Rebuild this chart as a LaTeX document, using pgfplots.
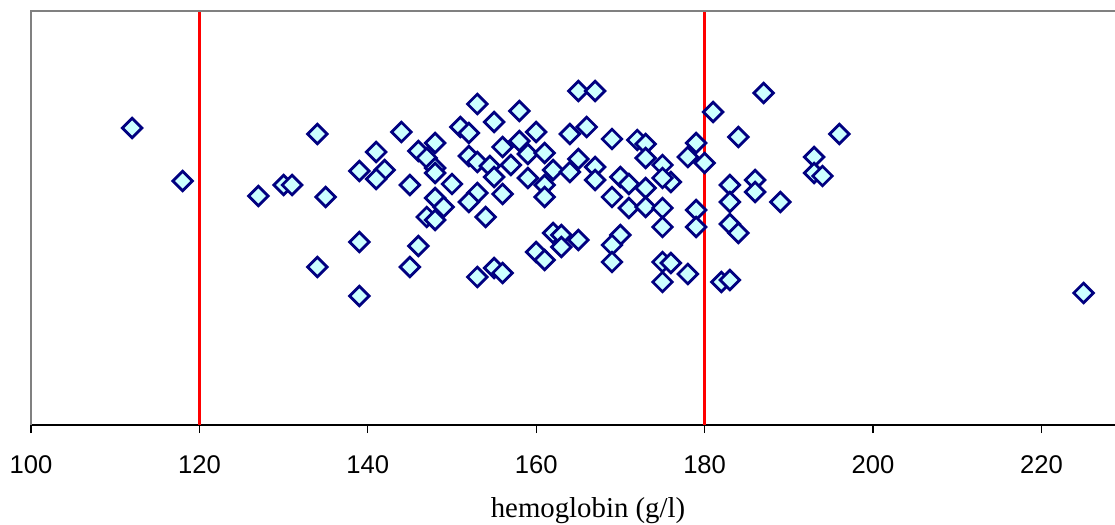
\documentclass[border=0pt]{standalone}
\usepackage{pgfplots}
\pgfplotsset{compat=1.18}
\usepackage{fontspec}
\setmainfont{Liberation Serif}
\setsansfont{Liberation Sans}
\definecolor{mfill}{RGB}{204,255,255}
\definecolor{medge}{RGB}{0,0,128}
\definecolor{bordergray}{RGB}{128,128,128}
\begin{document}
\begin{tikzpicture}
\path[use as bounding box] (-15.5pt,-50pt) rectangle (542pt,212.5pt);
\begin{axis}[
  at={(0,0)}, anchor=south west,
  scale only axis,
  width=542pt, height=207pt,
  xmin=100, xmax=228.74,
  ymin=0, ymax=414,
  axis x line*=bottom,
  axis y line=none,
  x axis line style={-, black, line width=0.6pt},
  xtick={100,120,140,160,180,200,220},
  ytick=\empty,
  tick align=outside,
  major tick length=4pt,
  xtick style={black, line width=0.6pt},
  /pgf/number format/assume math mode=true,
  xticklabel style={font=\sffamily\fontsize{12.8}{15}\selectfont, anchor=base, yshift=-20pt},
  xlabel={hemoglobin (g/l)},
  xlabel style={font=\fontsize{14.4}{17}\selectfont, at={(axis description cs:0,0)}, anchor=base, xshift=278.5pt, yshift=-46pt},
  clip=false,
]
\addplot[only marks, mark=square*, mark size=3.45pt,
  mark options={rotate=45, fill=mfill, draw=medge, line width=1.4pt}]
  table {
x y
112 297
118 244
127 229
130 240
131 240
135 228
134 291
134 158
139 183
139 129
139 254
141 273
142 255
141 246
153 321
155 303
158 314
144 293
151 298
152 292
156 278
146 274
148 282
147 267
152 269
153 263
154.5 259
157 260
148 257
148 252
155 248
150 241
145 240
153 232
152 223
156 231
148 227
149 218
147 208
148 205
154 208
146 179
145 158
153 148
155 157
156 152
165 334
167 334
160 293
164 291
166 298
169 286
172 285
173 281
158 284
159 271
161 272
162 255
164 253
165 266
167 258
167 245
159 247
161 240
161 228
170 248
171 241
169 228
171 217
162 192
163 190
163 178
165 185
160 173
161 165
170 190
169 180
169 163
187 332
181 313
184 288
179 282
173 267
178 268
180 262
175 260
176 243
175 247
173 237
183 240
186 245
186 233
183 223
173 218
175 217
179 215
179 198
175 198
183 201
184 192
175 163
176 162
178 151
175 143
182 143
183 145
196 291
193 268
193 252
194 249
189 223
225 132
};
\addplot[red, line width=1.6pt] coordinates {(120,0) (120,414)};
\addplot[red, line width=1.6pt] coordinates {(180,0) (180,414)};
\draw[bordergray, line width=0.6pt] (rel axis cs:0,0) -- (rel axis cs:0,1) -- (rel axis cs:1,1);
\end{axis}
\end{tikzpicture}
\end{document}
